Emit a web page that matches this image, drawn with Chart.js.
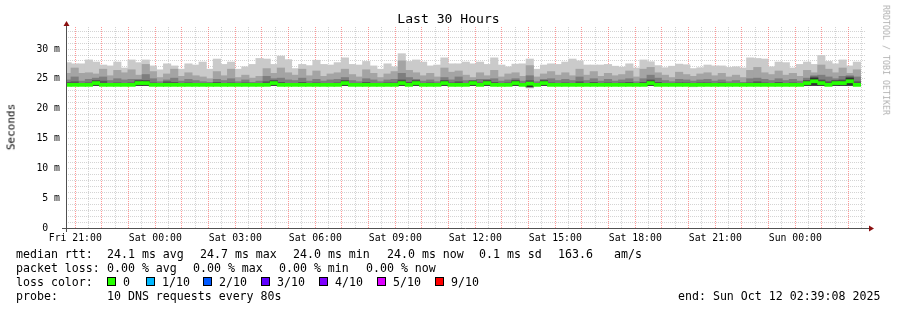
<!DOCTYPE html>
<html lang="en">
<head>
<meta charset="UTF-8">
<title>Last 30 Hours</title>
<script src="https://cdn.jsdelivr.net/npm/chart.js"></script>
<style>
  body { margin: 0; background: #fff; }
  #wrap { position: relative; width: 897px; height: 310px; font-family: 'DejaVu Sans Mono', monospace; color: #000; overflow: hidden; }
  #wrap canvas { position: absolute; left: 0; top: 0; }
  .t { position: absolute; white-space: pre; font-size: 11.6px; line-height: 14px; }
  .box { position: absolute; width: 7px; height: 7px; border: 1px solid #000; }
  #title { position: absolute; left: 0; width: 897px; top: 11px; text-align: center; font-size: 13.1px; line-height: 16px; }
  .rot { position: absolute; white-space: pre; line-height: 1; }
</style>
</head>
<body>
<div id="wrap">
  <canvas id="c" width="897" height="310"></canvas>
  <div id="title">Last 30 Hours</div>
  <div class="rot" id="ytitle" style="left:11px; top:127px; font-size:11px; color:#000; transform: translate(-50%,-50%) rotate(-90deg);">Seconds</div>
  <div class="rot" id="credit" style="left:886px; top:60px; font-size:8.3px; color:#b0b0b0; transform: translate(-50%,-50%) rotate(90deg);">RRDTOOL / TOBI OETIKER</div>
  <div id="legend"></div>
</div>
<script>
// time axis in hours relative to Sat 00:00
const startHour = -3.3478;   // Fri 20:39:08
const endHour = 26.6522;     // Sun 02:39:08
const firstColumn = -3.2894; // centre of first 16-minute column
const columnStep = 16 / 60;

const labelHours = [-3, 0, 3, 6, 9, 12, 15, 18, 21, 24];
const tickLabels = ['Fri 21:00', 'Sat 00:00', 'Sat 03:00', 'Sat 06:00', 'Sat 09:00',
                    'Sat 12:00', 'Sat 15:00', 'Sat 18:00', 'Sat 21:00', 'Sun 00:00'];
const yLabelValues = [0, 5, 10, 15, 20, 25, 30];
const yLabels = ['0  ', '5 m', '10 m', '15 m', '20 m', '25 m', '30 m'];

// smoke: sorted pings per column (ms)
const pMin = [23.9,23.9,23.9,23.9,23.9,23.9,23.9,23.9,23.9,23.9, 23.9,23.9,23.9,23.9,23.9,23.9,23.9,23.9,23.9,23.9,
  23.9,23.9,23.9,23.9,23.9,23.9,23.9,23.9,23.9,23.9, 23.9,23.9,23.9,23.9,23.9,23.9,23.9,23.9,23.9,23.9,
  23.9,23.9,23.9,23.9,23.9,23.9,23.9,23.9,23.9,23.9, 23.9,23.9,23.9,23.9,23.9,23.9,23.9,23.9,23.9,23.9,
  23.9,23.9,23.9,23.9,23.9,23.5,23.9,23.9,23.9,23.9, 23.9,23.9,23.9,23.9,23.9,23.9,23.9,23.9,23.9,23.9,
  23.9,23.9,23.9,23.9,23.9,23.9,23.9,23.9,23.7,23.9, 23.9,23.9,23.9,23.9,23.9,23.9,23.9,23.9,23.9,23.9,
  23.9,23.9,23.9,23.9,23.9,23.9,23.9,23.9,23.9,23.9, 23.9,23.9];
const pLow = [23.95,23.95,23.95,23.95,23.95,23.95,23.95,23.95,23.95,23.95, 23.95,23.95,23.95,23.95,23.95,23.95,23.95,23.95,23.95,23.95,
  23.95,23.95,23.95,23.95,23.95,23.95,23.95,23.95,23.95,23.95, 23.95,23.95,23.95,23.95,23.95,23.95,23.95,23.95,23.95,23.95,
  23.95,23.95,23.95,23.95,23.95,23.95,23.95,23.95,23.95,23.95, 23.95,23.95,23.95,23.95,23.95,23.95,23.95,23.95,23.95,23.95,
  23.95,23.95,23.95,23.95,23.95,23.7,23.95,23.95,23.95,23.95, 23.95,23.95,23.95,23.95,23.95,23.95,23.95,23.95,23.95,23.95,
  23.95,23.95,23.95,23.95,23.95,23.95,23.95,23.95,23.95,23.95, 23.95,23.95,23.95,23.95,23.95,23.95,23.95,23.95,23.95,23.95,
  23.95,23.95,23.95,23.95,23.95,23.95,23.95,23.95,23.95,23.95, 23.95,23.95];
const p6 = [24.05,24.05,24.05,24.05,24.6,24.05,24.05,24.05,24.05,24.05, 24.6,24.6,24.05,24.05,24.05,24.05,24.05,24.05,24.05,24.05,
  24.05,24.05,24.05,24.05,24.05,24.05,24.05,24.05,24.05,24.6, 24.05,24.05,24.05,24.05,24.05,24.05,24.05,24.05,24.05,24.6,
  24.05,24.05,24.05,24.05,24.05,24.05,24.05,24.6,24.05,24.6, 24.05,24.05,24.05,24.6,24.05,24.05,24.05,24.6,24.05,24.6,
  24.05,24.05,24.05,24.6,24.05,24.4,24.05,24.6,24.05,24.05, 24.05,24.05,24.05,24.05,24.05,24.05,24.05,24.05,24.05,24.05,
  24.05,24.05,24.6,24.05,24.05,24.05,24.05,24.05,24.05,24.05, 24.05,24.05,24.05,24.05,24.05,24.05,24.05,24.05,24.05,24.05,
  24.05,24.05,24.05,24.05,24.6,25.1,24.6,24.05,24.6,24.6, 25.1,24.05];
const p7 = [24.4,24.5,24.2,24.3,24.7,24.6,24.2,24.3,24.2,24.3, 24.7,24.7,24.3,24.15,24.5,24.4,24.2,24.3,24.2,24.15,
  24.15,24.4,24.2,24.3,24.15,24.3,24.15,24.2,24.5,24.7, 24.4,24.2,24.2,24.4,24.2,24.3,24.2,24.2,24.3,24.7,
  24.2,24.15,24.4,24.2,24.15,24.3,24.3,24.8,24.4,24.7, 24.2,24.3,24.15,24.7,24.3,24.5,24.2,24.6,24.3,24.7,
  24.4,24.2,24.3,24.7,24.2,24.7,24.15,24.7,24.3,24.2, 24.3,24.2,24.5,24.2,24.4,24.2,24.3,24.2,24.3,24.4,
  24.15,24.4,24.8,24.4,24.2,24.15,24.3,24.3,24.2,24.3, 24.3,24.2,24.3,24.15,24.2,24.15,24.3,24.5,24.3,24.2,
  24.4,24.2,24.3,24.2,24.7,25.3,24.8,24.5,24.7,24.8, 25.3,24.5];
const p8 = [24.8,25.3,24.6,24.9,25.1,25.3,24.7,25.0,24.8,24.9, 24.9,25.7,25.0,24.5,24.8,25.1,24.6,24.9,24.7,24.5,
  24.4,24.9,24.7,25.0,24.5,24.8,24.4,24.6,25.4,25.0, 25.1,24.8,24.7,25.1,24.6,24.9,24.6,24.8,24.9,25.2,
  24.7,24.5,25.0,24.8,24.5,24.8,24.9,25.9,25.2,24.9, 24.6,24.8,24.5,25.2,24.8,25.3,24.7,24.7,24.9,24.9,
  25.0,24.6,24.8,25.0,24.6,25.5,24.5,24.9,25.0,24.7, 24.9,24.7,25.3,24.7,25.0,24.6,24.9,24.6,24.8,25.0,
  24.5,25.0,25.6,25.1,24.7,24.5,24.9,24.8,24.6,24.8, 24.9,24.6,24.8,24.5,24.7,24.4,25.0,25.1,24.9,24.7,
  25.0,24.7,24.9,24.6,25.1,25.5,25.6,25.3,25.0,25.4, 25.5,25.3];
const p9 = [25.9,26.8,25.9,26.0,25.8,26.6,25.5,26.4,26.0,26.5, 25.6,27.4,26.2,25.2,25.8,26.6,25.4,26.0,25.5,25.3,
  25.0,26.2,25.5,26.6,25.2,25.6,25.1,25.4,26.7,25.9, 26.8,26.0,25.6,26.6,25.5,26.3,25.4,25.8,26.0,26.6,
  25.7,25.3,26.5,25.9,25.2,25.8,26.2,28.0,26.4,26.0, 25.5,25.9,25.3,26.8,26.1,26.3,25.6,25.2,26.0,25.5,
  26.4,25.3,25.8,26.0,25.4,27.2,25.3,25.8,26.2,25.6, 26.0,25.5,26.6,25.6,26.2,25.4,25.9,25.5,25.7,26.3,
  25.3,26.6,26.9,26.0,25.6,25.2,26.1,25.7,25.4,25.8, 26.0,25.5,25.9,25.3,25.6,25.2,26.4,26.9,26.0,25.7,
  26.3,25.6,25.9,25.4,26.4,26.0,27.3,26.6,26.0,26.8, 25.9,26.5];
const pMax = [27.7,27.5,27.5,28.15,27.8,27.3,27.15,27.8,26.8,28.15, 27.7,28.15,27.15,26.5,27.5,27.15,26.6,27.5,27.3,27.8,
  26.6,28.3,27.4,27.8,26.6,27.0,27.4,28.4,28.3,27.4, 28.8,28.2,26.7,27.4,27.2,28.1,27.4,27.3,27.7,28.5,
  27.4,27.3,27.9,27.15,26.6,27.5,27.0,29.2,27.9,28.15, 27.8,27.15,27.3,28.5,27.5,27.5,27.8,27.5,27.8,27.4,
  28.5,27.3,27.0,27.45,27.5,28.3,26.6,27.3,27.5,27.4, 27.8,28.3,28.0,27.3,27.3,27.3,27.4,27.1,26.95,27.5,
  26.8,28.15,27.85,27.2,26.85,27.1,27.45,27.35,26.7,26.85, 27.3,27.15,27.15,26.9,27.0,26.8,28.5,28.4,28.3,27.0,
  27.8,27.7,26.8,27.4,27.8,27.4,28.9,27.9,27.5,28.15, 27.15,27.8];
const median = [24.0,24.0,24.0,24.0,24.3,24.0,24.0,24.0,24.0,24.0, 24.3,24.3,24.0,24.0,24.0,24.0,24.0,24.0,24.0,24.0,
  24.0,24.0,24.0,24.0,24.0,24.0,24.0,24.0,24.0,24.3, 24.0,24.0,24.0,24.0,24.0,24.0,24.0,24.0,24.0,24.3,
  24.0,24.0,24.0,24.0,24.0,24.0,24.0,24.3,24.0,24.3, 24.0,24.0,24.0,24.3,24.0,24.0,24.0,24.3,24.0,24.3,
  24.0,24.0,24.0,24.3,24.0,24.2,24.0,24.3,24.0,24.0, 24.0,24.0,24.0,24.0,24.0,24.0,24.0,24.0,24.0,24.0,
  24.0,24.0,24.3,24.0,24.0,24.0,24.0,24.0,24.0,24.0, 24.0,24.0,24.0,24.0,24.0,24.0,24.0,24.0,24.0,24.0,
  24.0,24.0,24.0,24.0,24.3,24.6,24.3,24.0,24.3,24.3, 24.6,24.0];

const lossLabels = ['0', '1/10', '2/10', '3/10', '4/10', '5/10', '9/10'];
const lossColors = ['#26ff00', '#00b8ff', '#0059ff', '#5e00ff', '#7e00ff', '#dd00ff', '#ff0000'];

// legend text rows: [x, text]
const rttRow = [[16, 'median rtt:'], [107, '24.1 ms avg'], [200, '24.7 ms max'], [293, '24.0 ms min'],
                [387, '24.0 ms now'], [479, '0.1 ms sd'], [558, '163.6'], [614, 'am/s']];
const lossRow = [[16, 'packet loss:'], [107, '0.00 % avg'], [193, '0.00 % max'], [279, '0.00 % min'], [366, '0.00 % now']];
const boxX = [107, 146, 203, 261, 319, 377, 435];
const probeText = '10 DNS requests every 80s';
const endText = 'end: Sun Oct 12 02:39:08 2025';

const legend = document.getElementById('legend');
function addText(x, top, txt) {
    const d = document.createElement('div');
    d.className = 't';
    d.style.left = x + 'px';
    d.style.top = top + 'px';
    d.textContent = txt;
    legend.appendChild(d);
}
rttRow.forEach(([x, s]) => addText(x, 247, s));
lossRow.forEach(([x, s]) => addText(x, 261, s));
addText(16, 275, 'loss color:');
lossLabels.forEach((lab, i) => {
    const b = document.createElement('div');
    b.className = 'box';
    b.style.left = boxX[i] + 'px';
    b.style.top = '277px';
    b.style.background = lossColors[i];
    legend.appendChild(b);
    addText(boxX[i] + 16, 275, lab);
});
addText(16, 289, 'probe:');
addText(107, 289, probeText);
addText(678, 289, endText);

// build chart data
const colX = median.map((_, i) => firstColumn + i * columnStep);
function band(lo, hi) {
    return colX.map((x, i) => ({ x: x, y: [lo[i], hi[i]] }));
}
const bandColors = ['#cacaca', '#a4a4a4', '#7e7e7e', '#585858', '#323232'];
const bands = [[pMin, pMax], [pLow, p9], [pLow, p8], [pLow, p7], [pLow, p6]];

const barCommon = { type: 'bar', grouped: false, barPercentage: 1, categoryPercentage: 1,
                    borderWidth: 0, inflateAmount: 0.5, clip: 0 };
const datasets = bands.map((b, i) => Object.assign({}, barCommon, {
    data: band(b[0], b[1]),
    backgroundColor: bandColors[i],
    order: 10 - i
}));
datasets.push(Object.assign({}, barCommon, {
    data: colX.map((x, i) => ({ x: x, y: [median[i] - 0.23, median[i] + 0.23] })),
    backgroundColor: lossColors[0],
    order: 0
}));

const gridGray = 'rgba(120,120,120,0.32)';
const gridRed = 'rgba(255,0,0,0.4)';
const tickFont = { family: 'DejaVu Sans Mono', size: 9.8 };

const axesPlugin = {
    id: 'axes',
    afterDraw(chart) {
        const { ctx, chartArea: a } = chart;
        const x0 = a.left + 0.5, y0 = a.bottom + 0.5;
        ctx.save();
        ctx.strokeStyle = '#505050';
        ctx.lineWidth = 1;
        ctx.beginPath();
        ctx.moveTo(a.left - 4, y0); ctx.lineTo(a.right + 3, y0);
        ctx.moveTo(x0, a.bottom + 4); ctx.lineTo(x0, a.top - 1);
        ctx.stroke();
        ctx.fillStyle = '#8b1010';
        ctx.beginPath();
        ctx.moveTo(x0 - 3, a.top - 1); ctx.lineTo(x0 + 3, a.top - 1); ctx.lineTo(x0, a.top - 6);
        ctx.closePath(); ctx.fill();
        ctx.beginPath();
        ctx.moveTo(a.right + 3, y0 - 3); ctx.lineTo(a.right + 3, y0 + 3); ctx.lineTo(a.right + 8, y0);
        ctx.closePath(); ctx.fill();
        ctx.restore();
    }
};

function tickList(from, to, step) {
    const t = [];
    for (let v = from; v <= to; v += step) t.push({ value: v });
    return t;
}

new Chart(document.getElementById('c'), {
    data: { datasets: datasets },
    plugins: [axesPlugin],
    options: {
        responsive: false,
        animation: false,
        devicePixelRatio: 1,
        events: [],
        layout: { padding: { top: 27, right: 31, left: 0, bottom: 0 } },
        plugins: { legend: { display: false }, tooltip: { enabled: false }, title: { display: false } },
        scales: {
            // half-hour minor grid, no labels
            xMinor: {
                type: 'linear',
                position: 'bottom',
                min: startHour,
                max: endHour,
                offset: false,
                z: 1,
                afterBuildTicks: s => { s.ticks = tickList(-2.5, 26.5, 1); },
                afterFit: s => { s.height = 0; s.paddingLeft = 0; s.paddingRight = 0; },
                grid: { offset: false, color: gridGray, drawTicks: false, lineWidth: 1 },
                border: { display: false, dash: [1, 1] },
                ticks: { display: false }
            },
            x: {
                type: 'linear',
                position: 'bottom',
                min: startHour,
                max: endHour,
                offset: false,
                z: 2,
                afterBuildTicks: s => { s.ticks = tickList(-3, 26, 1); },
                afterFit: s => { s.height = 82; s.paddingLeft = 0; s.paddingRight = 0; },
                grid: { offset: false, color: gridRed, drawTicks: false, lineWidth: 1 },
                border: { display: false, dash: [1, 1] },
                ticks: {
                    autoSkip: false,
                    maxRotation: 0,
                    padding: 5,
                    color: '#000',
                    font: tickFont,
                    callback: v => {
                        const i = labelHours.indexOf(v);
                        return i >= 0 ? tickLabels[i] : '';
                    }
                }
            },
            y: {
                min: 0,
                max: 33.7,
                z: 1,
                afterBuildTicks: s => { s.ticks = tickList(0, 33, 1); },
                afterFit: s => { s.width = 66; },
                grid: { color: gridGray, drawTicks: false, lineWidth: 1 },
                border: { display: false, dash: [1, 1] },
                ticks: {
                    autoSkip: false,
                    padding: 6,
                    color: '#000',
                    font: tickFont,
                    callback: v => {
                        const i = yLabelValues.indexOf(v);
                        return i >= 0 ? yLabels[i] : '';
                    }
                }
            }
        }
    }
});
</script>
</body>
</html>
